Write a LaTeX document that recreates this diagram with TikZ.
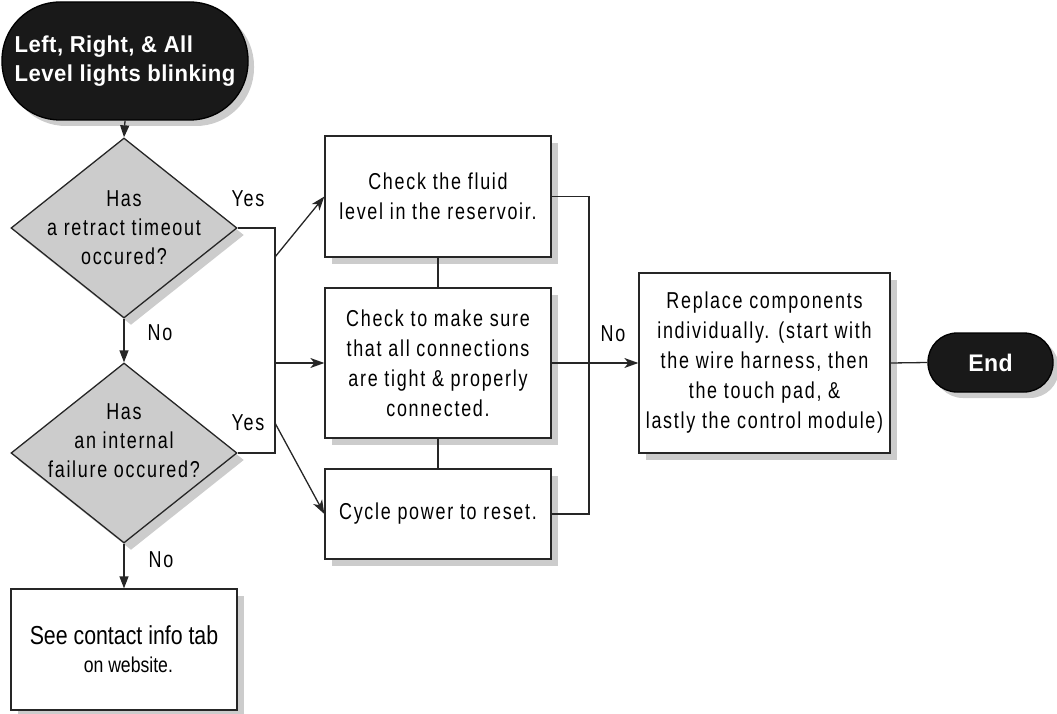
\documentclass[tikz,border=0pt]{standalone}
\usepackage{fontspec}
\setmainfont{Liberation Sans}
\newfontfamily\nar[FakeStretch=0.78,LetterSpace=7.5]{Liberation Sans}
\newfontfamily\narp[FakeStretch=0.82]{Liberation Sans}
\newfontfamily\termf[FakeStretch=0.96,LetterSpace=2]{Liberation Sans}
\usetikzlibrary{shapes.geometric,shadows,arrows.meta}
\begin{document}
\begin{tikzpicture}[x=1pt,y=-1pt,line width=1.3pt,color=black!85,
  shad/.style={drop shadow={shadow xshift=7pt,shadow yshift=-7pt,fill=black!20,opacity=1}},
  tshad/.style={drop shadow={shadow xshift=6pt,shadow yshift=-6pt,fill=black!20,opacity=1}},
  box/.style={rectangle,draw,fill=white,minimum width=226pt,inner sep=2pt,align=center,text=black,
    font=\nar\fontsize{23}{30}\selectfont,shad},
  dia/.style={diamond,draw,fill=black!20,minimum width=226pt,minimum height=180pt,inner sep=0pt,shad},
  dtext/.style={font=\nar\fontsize{23}{29}\selectfont,align=center,inner sep=0pt,text=black},
  term/.style={rectangle,draw=black,fill=black!90,text=white,inner sep=0pt,
    font=\termf\bfseries\fontsize{23}{29}\selectfont,tshad},
  lab/.style={font=\nar\fontsize{23}{25}\selectfont,inner sep=0pt,text=black},
  arr/.style={-{Stealth[length=14pt,width=10pt,inset=4pt]}},
  tarr/.style={-{Triangle[length=12pt,width=9pt]}}]
\useasboundingbox (0,0) rectangle (1057,714);

% terminals
\node[term,align=left,minimum width=246pt,minimum height=118pt,rounded corners=58pt] (start) at (125,61)
  {Left, Right, \& All\\Level lights blinking};
\node[term,align=center,minimum width=125pt,minimum height=59pt,rounded corners=29pt,
  font=\termf\bfseries\fontsize{24}{29}\selectfont] (end) at (990.5,362.5) {End};

% decisions
\node[dia,label={[dtext]center:{Has\\a retract timeout\\occured?}}] (d1) at (124,228) {};
\node[dia,label={[dtext,yshift=12pt]center:{Has\\an internal\\failure occured?}}] (d2) at (124,453) {};

% boxes
\node[box,minimum height=121pt] (b1) at (438,196.5) {Check the fluid\\level in the reservoir.};
\node[box,minimum height=150pt] (b2) at (438,363) {Check to make sure\\that all connections\\are tight \& properly\\connected.};
\node[box,minimum height=90pt] (b3) at (438,514) {Cycle power to reset.};
\node[box,minimum width=251pt,minimum height=180pt,inner sep=1pt] (b4) at (764.5,363)
  {Replace components\\individually. (start with\\the wire harness, then\\the touch pad, \&\\lastly the control module)};
\node[box,minimum height=121pt,align=left,font=\narp\fontsize{26}{28}\selectfont] (b5) at (124,649.5)
  {See contact info tab\\\hspace*{54pt}{\fontsize{21.5}{28}\selectfont on website.}};

% junction coordinates
\coordinate (ja) at (275,228);
\coordinate (jb) at (275,453);
\coordinate (j1) at (275,257);
\coordinate (j2) at (275,363);
\coordinate (j3) at (275,423);
\coordinate (jr) at (589,363);

% connectors
\draw[tarr] (start.south) -- (d1.north);
\draw[tarr] (d1.south) -- (d2.north);
\draw[tarr] (d2.south) -- (b5.north);
\draw (d1.east) -- (ja) -- (jb) -- (d2.east);
\draw[arr] (j1) -- (b1.west);
\draw[arr] (j2) -- (b2.west);
\draw[arr] (j3) -- (b3.west);
\draw (b1.south) -- (b2.north);
\draw (b2.south) -- (b3.north);
\draw (b1.east) -| (jr) |- (b3.east);
\draw[arr] (b2.east) -- (b4.west);
\draw (b4.east) -- (end.west);

% labels
\node[lab] (yes1) at (248,199) {Yes};
\node[lab] (yes2) at (248,423) {Yes};
\node[lab] (no1) at (160,333) {No};
\node[lab] (no2) at (161,560) {No};
\node[lab] (no3) at (613,334) {No};
\end{tikzpicture}
\end{document}
